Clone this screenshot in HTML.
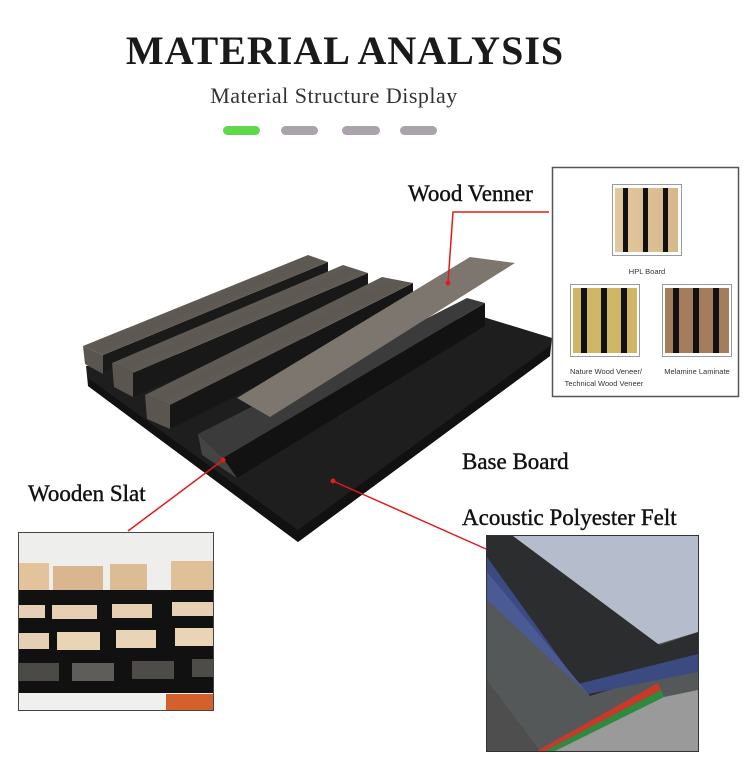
<!DOCTYPE html>
<html><head><meta charset="utf-8"><style>
html,body{margin:0;padding:0;background:#fff;}
svg{display:block;}
text{font-family:"Liberation Serif",serif;}
</style></head><body>
<svg width="750" height="779" viewBox="0 0 750 779" xmlns="http://www.w3.org/2000/svg">
<defs>
<linearGradient id="wood" x1="0" y1="0" x2="1" y2="1">
<stop offset="0" stop-color="#6f6a64"/><stop offset="0.5" stop-color="#5d5852"/><stop offset="1" stop-color="#7a746d"/></linearGradient>
<linearGradient id="hpl" x1="0" x2="1"><stop offset="0" stop-color="#e3c79e"/><stop offset="1" stop-color="#d6b88c"/></linearGradient>
</defs>
<rect width="750" height="779" fill="#fff"/>
<text x="345" y="64" text-anchor="middle" font-size="40" font-weight="bold" fill="#1a1a1a" letter-spacing="1">MATERIAL ANALYSIS</text>
<text x="334" y="103" text-anchor="middle" font-size="22" fill="#333" letter-spacing="0.5">Material Structure Display</text>
<rect x="223" y="126" width="37" height="9" rx="4.5" fill="#5fd94a"/>
<rect x="281" y="126" width="37" height="9" rx="4.5" fill="#aaa3ac"/>
<rect x="342" y="126" width="38" height="9" rx="4.5" fill="#aaa3ac"/>
<rect x="400" y="126" width="37" height="9" rx="4.5" fill="#aaa3ac"/>

<!-- base felt -->
<polygon points="86,366 480,316 552,338 550,356 298,542 88,386" fill="#1e1e1e"/>
<polygon points="88,378 298,530 550,346 550,356 298,542 88,386" fill="#111"/>
<!-- slat1 -->
<polygon points="103,355 328,262 328,285 103,372" fill="#1a1a1a"/>
<polygon points="83,346 308,255 328,262 103,355" fill="url(#wood)"/>
<polygon points="83,346 103,355 103,374 85,364" fill="#5a554f"/>
<!-- slat2 -->
<polygon points="133,373 368,273 368,297 133,397" fill="#181818"/>
<polygon points="112,363 343,265 368,273 133,373" fill="url(#wood)"/>
<polygon points="112,363 133,373 133,397 114,387" fill="#5a554f"/>
<!-- slat3 -->
<polygon points="170,405 413,283 413,307 170,429" fill="#161616"/>
<polygon points="145,395 382,277 413,283 170,405" fill="url(#wood)"/>
<polygon points="145,395 170,405 170,429 147,419" fill="#5a554f"/>
<!-- slat4 dark -->
<polygon points="223,458 485,303 485,326 237,478" fill="#121212"/>
<polygon points="198,434 467,298 485,303 223,458" fill="#3b3b3b"/>
<polygon points="198,434 223,458 237,478 202,455" fill="#444"/>
<!-- veneer -->
<polygon points="237,398 470,257 515,263 270,417" fill="#7d766e"/>

<!-- inset box -->
<rect x="552.5" y="167.5" width="186" height="229" fill="#fff" stroke="#555" stroke-width="1.5"/>
<rect x="612.5" y="184.5" width="69" height="71" fill="#fff" stroke="#999"/>
<rect x="615" y="188" width="63" height="64" fill="url(#hpl)"/>
<rect x="623" y="188" width="5" height="64" fill="#111"/><rect x="643" y="188" width="5" height="64" fill="#111"/><rect x="663" y="188" width="5" height="64" fill="#111"/>
<text x="647" y="274" text-anchor="middle" font-size="7.5" fill="#333" style="font-family:'Liberation Sans',sans-serif">HPL Board</text>
<rect x="570.5" y="284.5" width="69" height="72" fill="#fff" stroke="#999"/>
<rect x="573" y="288" width="64" height="65" fill="#cfb767"/>
<rect x="581" y="288" width="6" height="65" fill="#111"/><rect x="601" y="288" width="6" height="65" fill="#111"/><rect x="621" y="288" width="6" height="65" fill="#111"/>
<rect x="662.5" y="284.5" width="69" height="72" fill="#fff" stroke="#999"/>
<rect x="665" y="288" width="64" height="65" fill="#a47d5c"/>
<rect x="673" y="288" width="6" height="65" fill="#111"/><rect x="693" y="288" width="6" height="65" fill="#111"/><rect x="713" y="288" width="6" height="65" fill="#111"/>
<g font-size="7.5" fill="#333">
<text x="606" y="374" text-anchor="middle" style="font-family:'Liberation Sans',sans-serif">Nature Wood Veneer/</text>
<text x="604" y="386" text-anchor="middle" style="font-family:'Liberation Sans',sans-serif">Technical Wood Veneer</text>
<text x="697" y="374" text-anchor="middle" style="font-family:'Liberation Sans',sans-serif">Melamine Laminate</text>
</g>

<!-- left photo -->
<g>
<rect x="18.5" y="532.5" width="195" height="178" fill="#eeeeec" stroke="#444"/>
<rect x="19" y="563" width="30" height="28" fill="#e2c39c"/>
<rect x="53" y="566" width="50" height="25" fill="#d9b68f"/>
<rect x="110" y="564" width="37" height="27" fill="#dcbc95"/>
<rect x="171" y="561" width="42" height="30" fill="#e0c098"/>
<rect x="19" y="590" width="194" height="103" fill="#111"/>
<rect x="19" y="605" width="26" height="13" fill="#e6cfb2"/><rect x="52" y="605" width="45" height="14" fill="#e6cfb2"/><rect x="112" y="604" width="40" height="14" fill="#e6cfb2"/><rect x="172" y="602" width="41" height="14" fill="#e6cfb2"/>
<rect x="19" y="633" width="30" height="16" fill="#e6cfb2"/><rect x="57" y="632" width="43" height="18" fill="#ead4b6"/><rect x="116" y="630" width="40" height="18" fill="#ead4b6"/><rect x="175" y="628" width="38" height="18" fill="#ead4b6"/>
<rect x="19" y="663" width="40" height="18" fill="#4b4a46"/><rect x="72" y="663" width="42" height="18" fill="#5e5d59"/><rect x="132" y="661" width="42" height="18" fill="#4d4c48"/><rect x="192" y="659" width="21" height="18" fill="#4d4c48"/>
<rect x="19" y="693" width="194" height="17" fill="#f0f0ef"/>
<rect x="166" y="694" width="47" height="16" fill="#d4602c"/>
</g>

<!-- right photo -->
<g>
<rect x="486.5" y="535.5" width="212" height="216" fill="#4e4e4e" stroke="#333"/>
<polygon points="487,536 698,536 698,700 620,750 540,751 487,680" fill="#555858"/>
<polygon points="487,536 530,536 660,645 698,632 698,662 590,696 487,590" fill="#2b2d2e"/>
<polygon points="513,536 698,536 698,632 658,644" fill="#b5bccc"/>
<polygon points="487,557 578,684 698,654 698,672 588,694 487,588" fill="#3b4b82"/>
<polygon points="487,572 585,690 590,696 487,600" fill="#4a5a95"/>
<polygon points="537,751 658,683 661,690 545,751" fill="#c9392a"/>
<polygon points="545,751 661,690 664,697 555,751" fill="#2e8a3e"/>
<polygon points="555,751 664,697 698,690 698,751" fill="#9a9a9a"/>
</g>

<!-- red connectors -->
<g stroke="#e31b1b" stroke-width="1.5" fill="none">
<polyline points="549,212 453,212 448,283"/>
<line x1="223" y1="460" x2="128" y2="531"/>
<line x1="333" y1="481" x2="486" y2="549"/>
</g>
<circle cx="448" cy="283" r="2.5" fill="#e31b1b"/>
<circle cx="223" cy="460" r="2.5" fill="#e31b1b"/>
<circle cx="333" cy="481" r="2.5" fill="#e31b1b"/>

<g font-size="23" fill="#111" stroke="#111" stroke-width="0.4">
<text x="408" y="201">Wood Venner</text>
<text x="462" y="469">Base Board</text>
<text x="28" y="501">Wooden Slat</text>
<text x="462" y="525">Acoustic Polyester Felt</text>
</g>
</svg>
</body></html>
